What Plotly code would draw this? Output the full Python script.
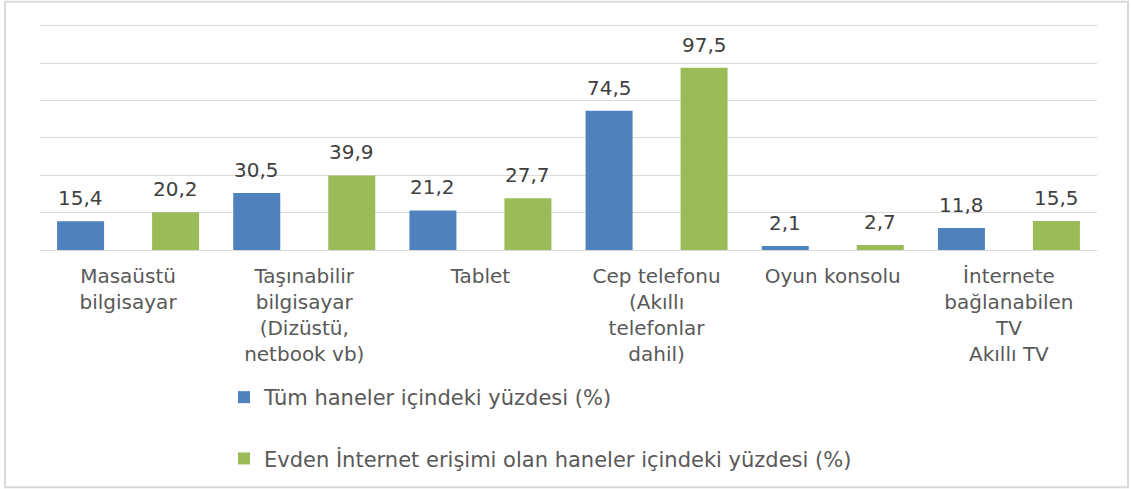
import plotly.graph_objects as go

categories = [
    "Masaüstü<br>bilgisayar",
    "Taşınabilir<br>bilgisayar<br>(Dizüstü,<br>netbook vb)",
    "Tablet",
    "Cep telefonu<br>(Akıllı<br>telefonlar<br>dahil)",
    "Oyun konsolu",
    "İnternete<br>bağlanabilen<br>TV<br>Akıllı TV",
]
series_names = [
    "Tüm haneler içindeki yüzdesi (%)",
    "Evden İnternet erişimi olan haneler içindeki yüzdesi (%)",
]
all_households = [15.4, 30.5, 21.2, 74.5, 2.1, 11.8]
internet_households = [20.2, 39.9, 27.7, 97.5, 2.7, 15.5]
y_gridlines = [0, 20, 40, 60, 80, 100, 120]

colors = ["#4f81bd", "#9bbb59"]
FONT = "DejaVu Sans"
TXT = "#595959"

W, H = 1131, 489
YMAX = 122
base_px, top_px = 250, 26           # pixel rows of 0 and 120
px_per_unit = (base_px - top_px) / 120
L, R = 40, 34
B = H - base_px
T = base_px - YMAX * px_per_unit
pw = W - L - R
ph = H - T - B
cat_px = pw / len(categories)
bar_px = 47
half_sep = 47.5
bw = bar_px / cat_px
c_off = half_sep / cat_px

fig = go.Figure()
for i, (name, vals) in enumerate(zip(series_names, [all_households, internet_households])):
    center = -c_off if i == 0 else c_off
    fig.add_trace(go.Bar(
        x=categories, y=vals, name=name,
        marker=dict(color=colors[i], line=dict(width=0)),
        width=bw, offset=center - bw / 2,
        legendgroup=f"g{i}",
        hoverinfo="skip",
    ))
    for c, v in zip(categories, vals):
        fig.add_annotation(
            x=c, y=v, xref="x", yref="y",
            text=f"{v:.1f}".replace(".", ","),
            showarrow=False, yanchor="bottom", xanchor="center",
            xshift=(-half_sep if i == 0 else half_sep), yshift=9,
            font=dict(family=FONT, size=20, color="#404040"),
        )

fig.add_shape(type="rect", xref="paper", yref="paper",
              x0=(5 - L) / pw, x1=(1128 - L) / pw,
              y0=(H - B - 487) / ph, y1=(H - B - 2) / ph,
              line=dict(color="#d9d9d9", width=2), fillcolor="rgba(0,0,0,0)",
              layer="below")

fig.update_layout(
    width=W, height=H,
    margin=dict(l=L, r=R, t=T, b=B, pad=0, autoexpand=False),
    paper_bgcolor="white", plot_bgcolor="white",
    barmode="overlay",
    font=dict(family=FONT, size=20, color=TXT),
    showlegend=True,
    legend=dict(
        xref="container", yref="container",
        x=224 / W, xanchor="left",
        y=1 - 377 / H, yanchor="top",
        orientation="v", traceorder="grouped", tracegroupgap=31,
        font=dict(family=FONT, size=21, color=TXT),
        bgcolor="rgba(0,0,0,0)",
    ),
    xaxis=dict(
        type="category", showgrid=False, zeroline=False, showline=False,
        ticks="", ticklabelstandoff=12, automargin=False,
        tickfont=dict(family=FONT, size=20, color=TXT),
    ),
    yaxis=dict(
        range=[0, YMAX], tickvals=y_gridlines,
        showticklabels=False, ticks="", automargin=False,
        showgrid=True, gridcolor="#d9d9d9", gridwidth=1,
        zeroline=True, zerolinecolor="#d9d9d9", zerolinewidth=1,
        showline=False, fixedrange=True,
    ),
)

fig.write_html(
    "out.html",
    config={"displayModeBar": False, "staticPlot": True},
    post_script="document.body.style.margin='0';document.body.style.overflow='hidden';",
)
